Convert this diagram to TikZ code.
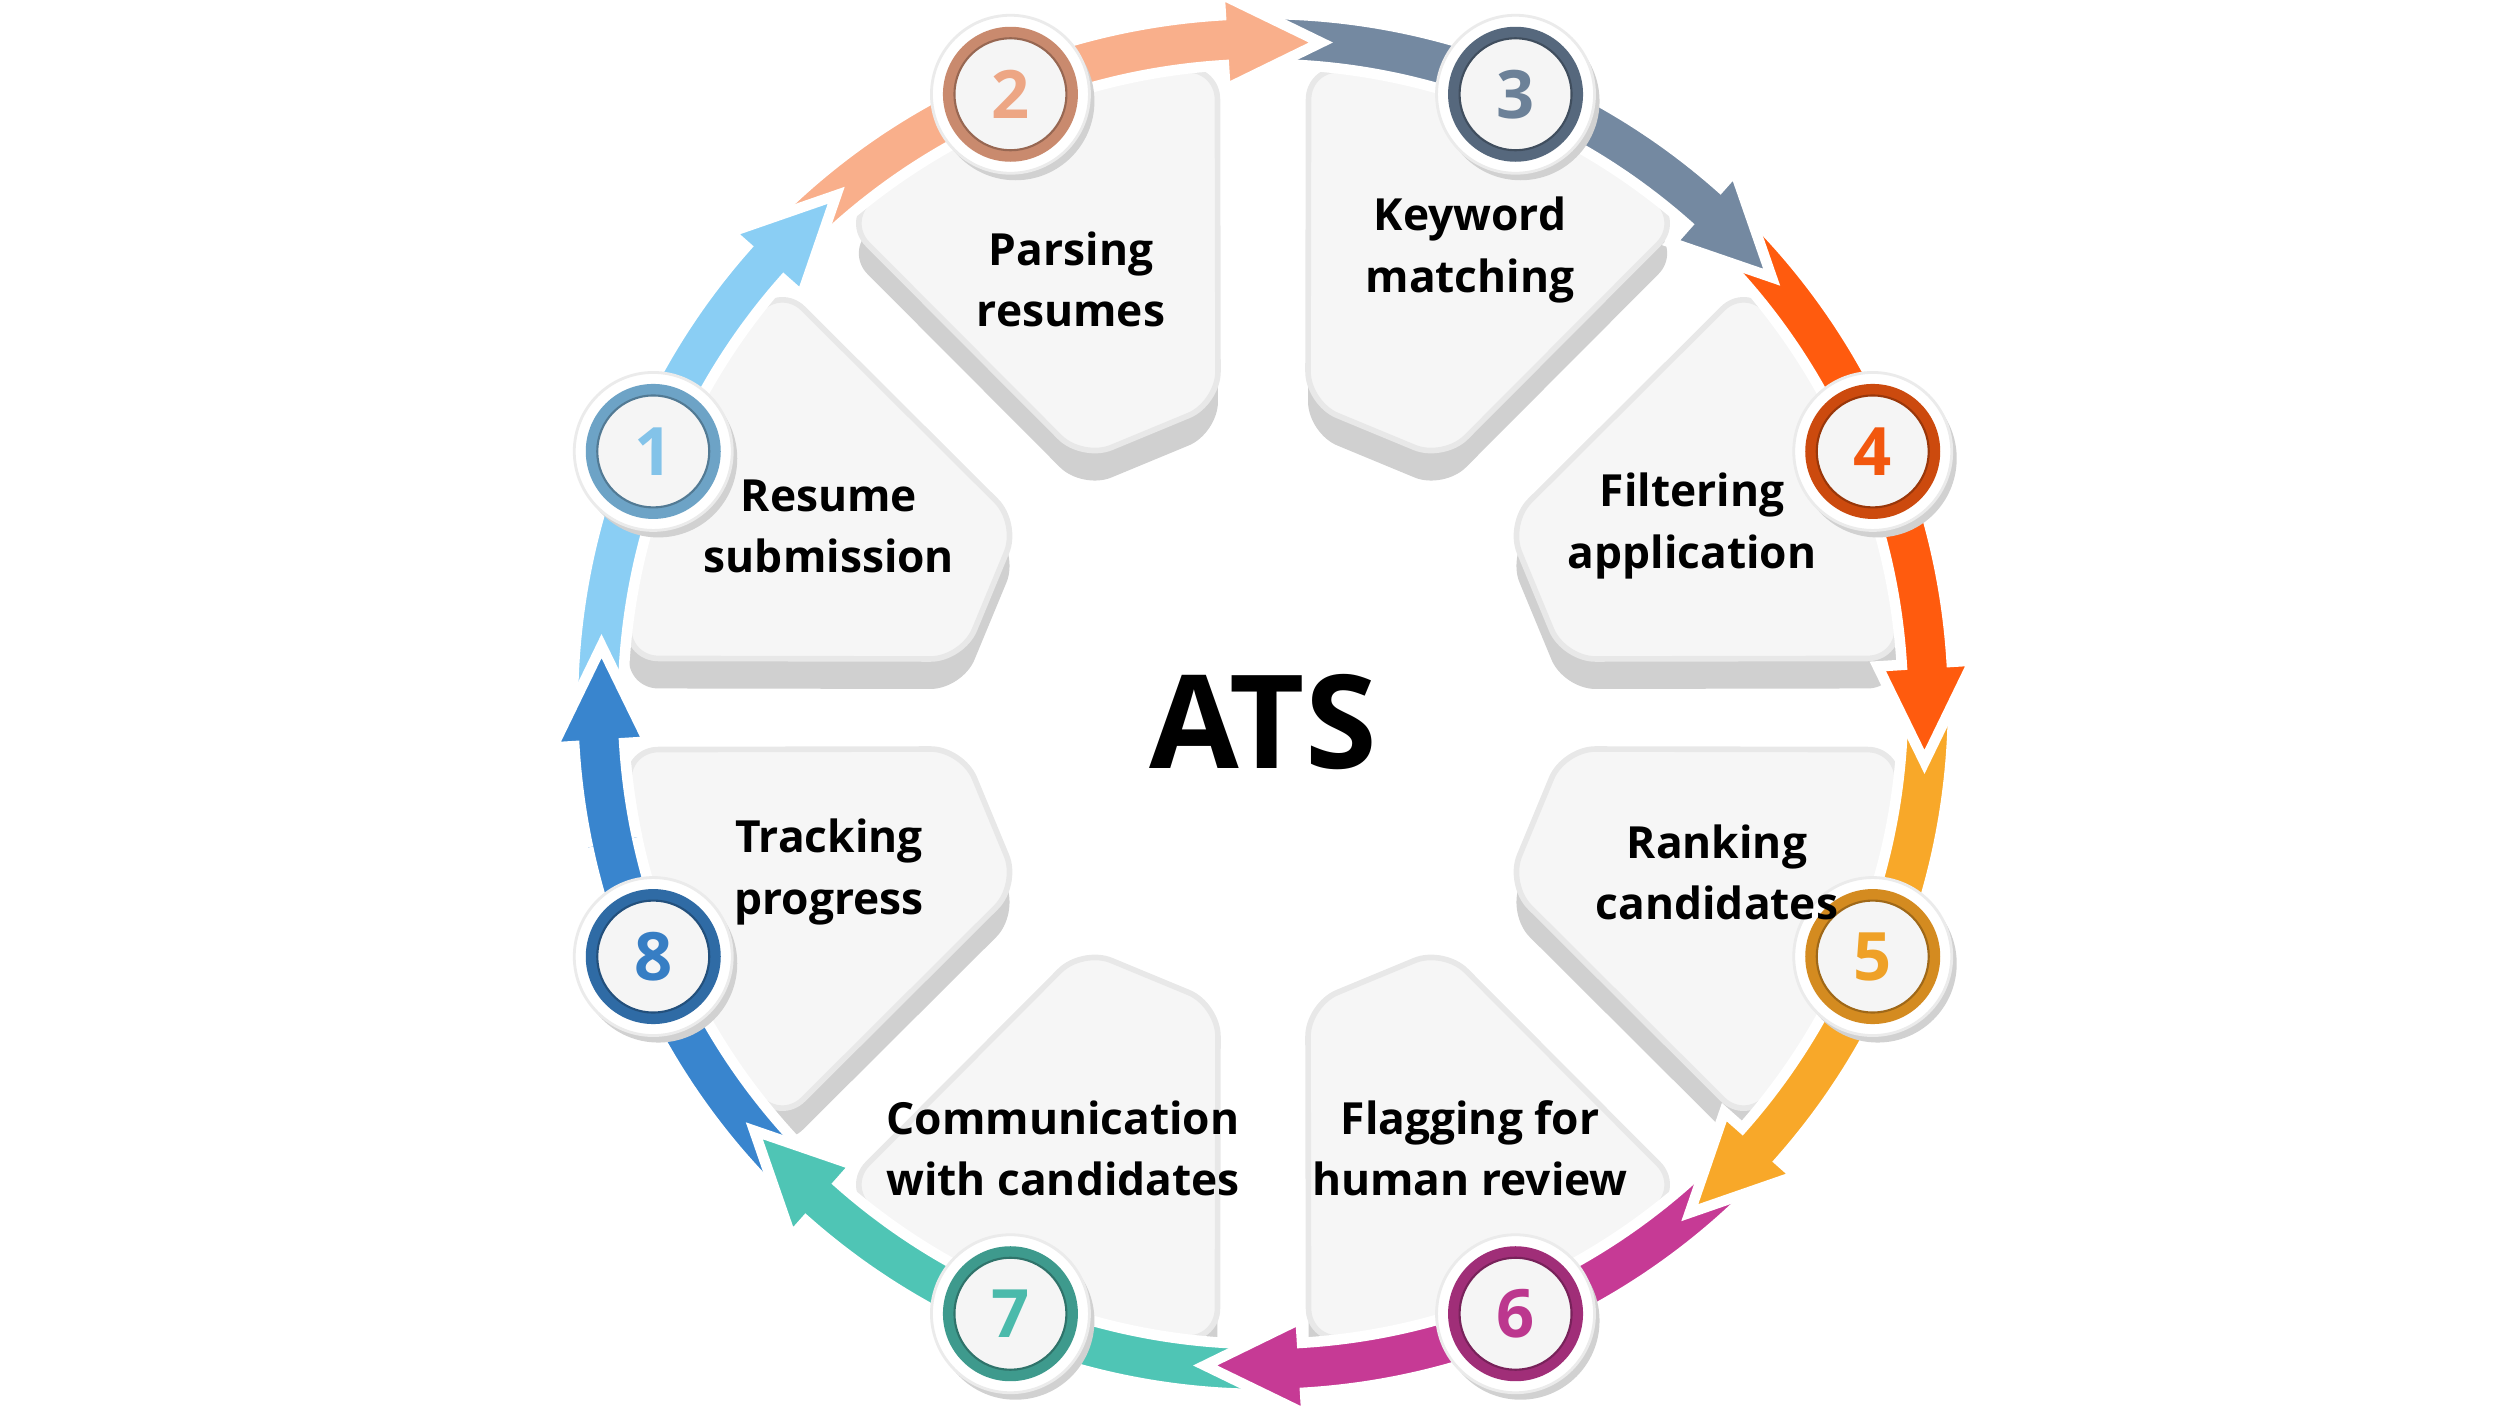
\documentclass[tikz,border=0pt]{standalone}
\usepackage{fontspec}
\setmainfont{Open Sans}
\definecolor{PanelFace}{HTML}{F6F6F6}
\definecolor{PanelRim}{HTML}{E8E8E8}
\definecolor{PanelShade}{HTML}{D0D0D0}
\definecolor{Seg1}{HTML}{8ACEF4}\definecolor{Ring1}{HTML}{6DA3C6}
\definecolor{Seg2}{HTML}{F9AF8B}\definecolor{Ring2}{HTML}{C98A6E}
\definecolor{Seg3}{HTML}{7489A1}\definecolor{Ring3}{HTML}{56687D}
\definecolor{Seg4}{HTML}{FF5B0E}\definecolor{Ring4}{HTML}{CC4A0E}
\definecolor{Seg5}{HTML}{F8A829}\definecolor{Ring5}{HTML}{D48B20}
\definecolor{Seg6}{HTML}{C63A95}\definecolor{Ring6}{HTML}{A02E78}
\definecolor{Seg7}{HTML}{4FC5B5}\definecolor{Ring7}{HTML}{3E9A8D}
\definecolor{Seg8}{HTML}{3985CE}\definecolor{Ring8}{HTML}{2F6BA5}

\begin{document}
\begin{tikzpicture}[line join=round,
  panelshadow/.style={fill=PanelShade,rounded corners=9pt},
  panelface/.style={fill=PanelFace,draw=PanelRim,line width=1.6pt,rounded corners=9pt},
  band/.style={draw=white,line width=3pt,line join=miter},
  steplabel/.style={font=\fontsize{12.6}{17.4}\selectfont\bfseries,align=center},
  stepnum/.style={font=\fontsize{19}{19}\selectfont\bfseries}]
  \useasboundingbox (-12.63,-7.02) rectangle (12.37,7.04);
  % panels with their drop shadows
  \foreach \k in {1,...,8}{
    \pgfmathsetmacro\c{157.5-45*(\k-1)}
    \begin{scope}[shift={(0,-0.3)},rotate=\c]
      \fill[panelshadow] (2.95,-0.735) -- (2.95,0.735) -- (18.4:6.38) arc[start angle=18.4,end angle=-18.4,radius=6.38] -- cycle;
    \end{scope}
  }
  \foreach \k in {1,...,8}{
    \pgfmathsetmacro\c{157.5-45*(\k-1)}
    \begin{scope}[rotate=\c]
      \filldraw[panelface] (2.95,-0.735) -- (2.95,0.735) -- (18.4:6.38) arc[start angle=18.4,end angle=-18.4,radius=6.38] -- cycle;
    \end{scope}
  }
  % ring of arrows
  \foreach \k in {8,7,...,1}{
    \pgfmathsetmacro\t{130-45*(\k-1)}\pgfmathsetmacro\b{\t+8.5}\pgfmathsetmacro\s{\t+50}
    \filldraw[band,fill=Seg\k] (\s:6.9) arc[start angle=\s,end angle=\b,radius=6.9] -- (\b:7.12) -- (\t:6.64)
      -- (\b:6.16) -- (\b:6.4) arc[start angle=\b,end angle=\s,radius=6.4] -- cycle;
  }
  \begin{scope}
    \clip (0,0) -- (192:9) -- (170:9) -- cycle;
    \filldraw[band,fill=Seg8] (-135:6.9) arc[start angle=-135,end angle=-176.5,radius=6.9] -- (-176.5:7.12) -- (-185:6.64)
      -- (-176.5:6.16) -- (-176.5:6.4) arc[start angle=-176.5,end angle=-135,radius=6.4] -- cycle;
  \end{scope}
  % numbered badges
  \foreach \k in {1,...,8}{
    \pgfmathsetmacro\c{157.5-45*(\k-1)}
    \fill[black!18] (\c:6.6) ++(0.05,-0.07) circle[radius=0.79];
    \filldraw[fill=white,draw=black!8,line width=0.8pt] (\c:6.6) circle[radius=0.79];
    \fill[Ring\k] (\c:6.6) circle[radius=0.675];
    \filldraw[fill=black!4,draw=Ring\k!75!black,line width=0.6pt] (\c:6.6) circle[radius=0.56];
    \node[stepnum,text=Seg\k!75!Ring\k] (n\k) at (\c:6.6) {\k};
  }
  \node[steplabel] (t1) at (-4.34,1.78) {Resume\\submission};
  \node[steplabel] (t2) at (-1.92,4.25) {Parsing\\resumes};
  \node[steplabel] (t3) at (2.07,4.54) {Keyword\\matching};
  \node[steplabel] (t4) at (4.29,1.78) {Filtering\\application};
  \node[steplabel] (t5) at (4.54,-1.68) {Ranking\\candidates};
  \node[steplabel] (t6) at (2.07,-4.44) {Flagging for\\human review};
  \node[steplabel] (t7) at (-2.00,-4.44) {Communication\\with candidates};
  \node[steplabel] (t8) at (-4.34,-1.68) {Tracking\\progress};
  \node[font=\fontsize{37}{37}\selectfont\bfseries] (ats) at (0,-0.18) {ATS};
\end{tikzpicture}
\end{document}
